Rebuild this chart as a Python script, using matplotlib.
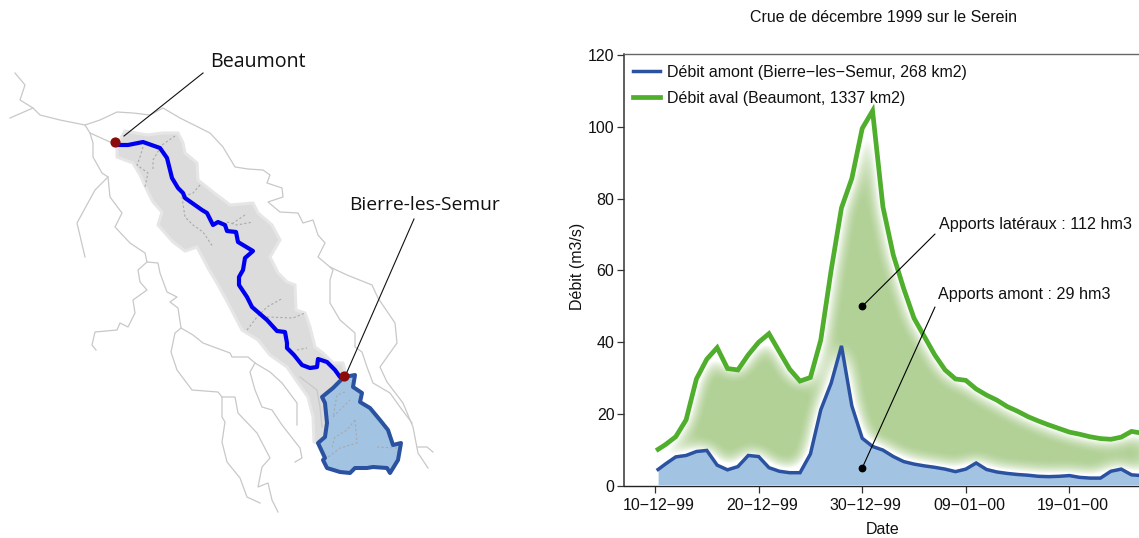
import numpy as np
import matplotlib
matplotlib.use("Agg")
import matplotlib.pyplot as plt
from matplotlib.patches import Polygon
from matplotlib.transforms import ScaledTranslation

plt.rcParams['font.family'] = ['Liberation Sans', 'DejaVu Sans']

# ---- hydrograph data (day number after 10-12-99, m3/s)
days = [0.3] + list(range(1, 48))
debit_amont = [4.6, 6.1, 8.1, 8.5, 9.6, 9.9, 5.8, 4.5, 5.4, 8.5, 8.2, 5.1, 4.1, 3.7, 3.7, 8.9,
               21.2, 28.6, 39.0, 22.3, 13.3, 11.0, 10.0, 8.2, 6.8, 6.1, 5.6, 5.2, 4.7, 4.0, 4.7, 6.4,
               4.6, 3.9, 3.5, 3.2, 3.0, 2.7, 2.6, 2.7, 2.9, 2.4, 2.2, 2.2, 4.1, 4.7, 3.1, 2.9]
debit_aval = [10.2, 11.5, 13.7, 18.4, 29.8, 35.3, 38.5, 32.7, 32.3, 36.5, 40.0, 42.4, 37.4, 32.5, 29.2, 30.2,
              40.6, 60.0, 77.4, 85.6, 99.5, 104.4, 77.7, 64.3, 55.0, 46.7, 41.6, 36.5, 32.3, 29.8, 29.4, 27.0,
              25.3, 23.9, 22.1, 20.8, 19.3, 18.1, 17.0, 16.0, 15.0, 14.4, 13.7, 13.2, 13.0, 13.6, 15.2, 14.7]
x_ticks = [0, 10, 20, 30, 40]
x_labels = ['10−12−99', '20−12−99', '30−12−99', '09−01−00', '19−01−00']
y_ticks = [0, 20, 40, 60, 80, 100, 120]
label_amont = 'Débit amont (Bierre−les−Semur, 268 km2)'
label_aval = 'Débit aval (Beaumont, 1337 km2)'

# ---- map data (map units)
bassin = [(117,145),(125,131),(147,135),(163,133),(178,133),(183,143),(185,153),(197,163),(198,180),(213,192),
          (230,205),(253,203),(258,213),(272,225),(280,240),(270,257),(278,273),(287,282),(295,285),(296,310),
          (305,313),(310,327),(315,347),(323,353),(333,363),(343,363),(346,375),(330,440),(318,443),(314,442),
          (313,417),(308,397),(298,383),(287,367),(270,355),(258,340),(242,330),(228,303),(217,283),(208,268),
          (197,247),(185,251),(173,242),(158,225),(162,212),(153,202),(147,190),(140,175),(133,163),(117,157)]
amont = [(344,377),(355,375),(353,387),(362,393),(360,402),(370,408),(380,420),(388,430),(393,445),(401,443),
         (398,460),(390,473),(387,468),(373,467),(367,468),(355,468),(350,473),(340,472),(327,468),(323,460),
         (325,458),(318,443),(325,437),(327,423),(325,403),(322,397),(333,388)]
serein = [(117,145),(128,145),(143,142),(160,148),(167,158),(172,178),(178,188),(183,193),(185,198),(202,210),
          (207,213),(213,225),(218,222),(225,225),(227,231),(236,232),(238,242),(253,251),(245,258),(243,270),
          (239,277),(239,285),(247,297),(252,307),(267,320),(277,331),(285,332),(287,343),(287,348),(294,355),
          (302,365),(310,368),(317,367),(318,359),(327,362),(335,370),(340,377)]
rivieres = [
    [(15,73),(25,85),(20,100),(33,108),(10,118)],
    [(33,108),(40,115),(60,120),(85,125),(100,120),(117,112),(133,113),(150,115),(163,108),(180,118),(210,133),
     (223,147),(235,167),(248,169),(263,170),(270,175),(267,183),(282,188),(283,197),(268,202),(280,212),(298,213),
     (303,223),(313,220),(318,235),(325,243),(318,257),(330,267),(347,275),(372,285),(378,298),(395,323),(397,343),
     (380,367),(387,382),(403,403),(413,427),(418,453),(428,468)],
    [(418,447),(427,447),(433,452)],
    [(330,267),(333,270),(330,280),(330,303),(340,320),(355,333),(355,347),(362,352),(367,367),(373,383),(390,393),
     (400,407),(412,423)],
    [(85,125),(90,133),(110,142)],
    [(90,133),(93,143),(93,157),(102,173),(108,177),(95,190),(77,223),(85,257)],
    [(108,177),(110,197),(122,213),(115,227),(130,243),(145,253),(147,262),(138,270),(140,282),(147,290),(133,300),
     (135,313),(128,327),(120,323),(117,330),(95,332),(92,345),(96,350)],
    [(147,262),(158,263),(160,273),(167,292),(177,297),(170,302),(178,308),(181,328),(175,333),(171,352),(177,370),
     (192,390),(218,392),(222,397),(235,397),(238,413),(257,433),(270,458),(262,467),(258,487),(268,483),(272,500),
     (278,512)],
    [(181,328),(193,335),(203,343),(230,353),(232,357),(248,357),(255,363),(270,372),(282,383),(297,403),(297,425)],
    [(255,363),(250,372),(255,390),(262,407),(272,410),(282,425),(300,448),(302,458),(295,462)],
    [(222,397),(222,417),(225,422),(222,442),(227,462),(240,478),(247,497),(260,503)],
    [(300,377),(317,390),(320,407),(322,427)],
]
affluents = [
    [(175,136),(162,145),(153,160),(153,170)],
    [(143,147),(140,157),(137,165),(148,173),(145,187)],
    [(200,185),(193,193),(182,197),(185,217),(193,225),(203,232),(213,247)],
    [(227,222),(237,225),(253,222)],
    [(245,215),(230,225)],
    [(247,330),(257,317),(267,307),(283,298)],
    [(267,317),(293,318),(305,313)],
    [(297,350),(307,348)],
    [(345,392),(337,395),(333,417),(350,400)],
    [(355,420),(347,430),(335,437),(332,447)],
    [(355,420),(357,443),(340,448),(327,458)],
    [(377,447),(397,448)],
]
stations = [(115, 142), (344, 376)]

W, H = 1139, 538
fig = plt.figure(figsize=(W / 100, H / 100), dpi=100, facecolor='white')

# ---- left panel: map
m = fig.add_axes([0, 0, 1, 1])
m.set_xlim(0, W)
m.set_ylim(H, 0)
m.axis('off')
m.add_patch(Polygon(bassin, closed=True, fc='#dcdcdc', ec='#e6e6e6', lw=2.2, zorder=1, joinstyle='round'))
for r in rivieres:
    xs, ys = zip(*r)
    m.plot(xs, ys, color='#c8c8c8', lw=0.9, zorder=2, solid_joinstyle='round')
m.add_patch(Polygon(amont, closed=True, fc='#a3c3e2', ec='#2b52a0', lw=2.9, zorder=3, joinstyle='round'))
for a in affluents:
    xs, ys = zip(*a)
    m.plot(xs, ys, color='#a8a8a8', lw=0.8, ls=(0, (2, 2)), zorder=4)
xs, ys = zip(*serein)
m.plot(xs, ys, color='#0000f0', lw=3.0, zorder=5, solid_joinstyle='round', solid_capstyle='round')
xs, ys = zip(*stations)
m.scatter(xs, ys, s=54, color='#8b0a0a', zorder=7, linewidths=0)
m.plot([203, 124], [73, 136], color='#111111', lw=0.8, zorder=6)
m.plot([414, 347], [219, 372], color='#111111', lw=0.8, zorder=6)
m.text(210, 62, 'Beaumont', family='Open Sans', fontsize=14.1, va='center', ha='left', color='#111111')
m.text(349, 205, 'Bierre-les-Semur', family='Open Sans', fontsize=13.9, va='center', ha='left', color='#111111')

# ---- right panel: hydrograph
ax = fig.add_axes([623.5 / W, (H - 486) / H, (W - 623.5) / W, 432 / H])
px_day = 10.36
ax.patch.set_alpha(0)

x = np.array(days)
ya = np.array(debit_amont)
yb = np.array(debit_aval)

gx = np.arange(0.3, 48, 1 / px_day)
gy = np.arange(0, 121, 1 / 3.593)
X, Y = np.meshgrid(gx, gy)
mask = ((Y < np.interp(X, x, yb)) & (Y > np.interp(X, x, ya))).astype(float)
sig = 9.0
r = np.arange(-28, 29)
kern = np.exp(-r ** 2 / (2 * sig ** 2))
kern /= kern.sum()
pad = 30
big = np.pad(mask, pad, mode='constant')
big = np.apply_along_axis(lambda v: np.convolve(v, kern, mode='same'), 0, big)
big = np.apply_along_axis(lambda v: np.convolve(v, kern, mode='same'), 1, big)
blur = big[pad:-pad, pad:-pad]
alpha = np.clip((blur - 0.6) / 0.36, 0, 1)
rgba = np.zeros(mask.shape + (4,))
rgba[..., :3] = matplotlib.colors.to_rgb('#b2d197')
rgba[..., 3] = alpha
ax.imshow(rgba, extent=(gx[0], gx[-1], gy[0], gy[-1]), origin='lower', aspect='auto',
          interpolation='bilinear', zorder=1)
ax.set_xlim(-(655 - 623.5) / px_day, (W - 655) / px_day)
ax.set_ylim(0, 432 / 3.593)

ax.fill_between(x, 0.4, ya, color='#a3c3e2', lw=0, zorder=2)
l1, = ax.plot(x, ya, color='#2b52a0', lw=2.5, zorder=4, label=label_amont, solid_joinstyle='miter')
l2, = ax.plot(x, yb, color='#4fae2c', lw=3.4, zorder=3, label=label_aval, solid_joinstyle='miter')

ax.spines['right'].set_visible(False)
ax.spines['top'].set_color('#666666')
ax.spines['top'].set_linewidth(1.0)
ax.spines['left'].set_color('#333333')
ax.spines['left'].set_linewidth(1.1)
ax.spines['bottom'].set_color('#222222')
ax.spines['bottom'].set_linewidth(1.0)
ax.set_xticks(x_ticks)
ax.set_xticklabels(x_labels)
ax.set_yticks(y_ticks)
ax.tick_params(axis='x', length=5, width=0.9, labelsize=11.5, pad=4, color='#333333', labelcolor='#111111')
ax.tick_params(axis='y', length=5, width=0.9, labelsize=11.5, pad=1.5, color='#333333', labelcolor='#111111')
shift = ScaledTranslation(3.5 / 100, 0, fig.dpi_scale_trans)
for t in ax.get_xticklabels():
    t.set_transform(t.get_transform() + shift)

ax.legend(loc='upper left', bbox_to_anchor=(0.002, 0.993), frameon=False, fontsize=11.5,
          handlelength=1.75, handletextpad=0.4, labelspacing=0.66, borderaxespad=0.2, borderpad=0.3,
          labelcolor='#111111')

ax.plot([20, 20], [50, 5], ls='none', marker='o', ms=4.6, color='black', zorder=6, clip_on=False)
ax.annotate('', xy=(20, 50), xytext=((935 - 655) / px_day, (486 - 234) / 3.593),
            arrowprops=dict(arrowstyle='-', color='black', lw=0.8, shrinkA=0, shrinkB=0), zorder=5)
ax.annotate('', xy=(20, 5), xytext=((935 - 655) / px_day, (486 - 307) / 3.593),
            arrowprops=dict(arrowstyle='-', color='black', lw=0.8, shrinkA=0, shrinkB=0), zorder=5)

fig.text(939 / W, 1 - 225 / H, 'Apports latéraux : 112 hm3', fontsize=11.65, va='center', ha='left', color='#111111')
fig.text(938 / W, 1 - 295 / H, 'Apports amont : 29 hm3', fontsize=11.65, va='center', ha='left', color='#111111')
fig.text(883 / W, 1 - 17 / H, 'Crue de décembre 1999 sur le Serein', fontsize=11.5, va='center', ha='center', color='#111111')
fig.text(883 / W, 1 - 530 / H, 'Date', fontsize=11.5, va='center', ha='center', color='#111111')
fig.text(577.5 / W, 1 - 266.5 / H, 'Débit (m3/s)', fontsize=11.5, va='center', ha='center', rotation=90, color='#111111')

fig.savefig('out.png', dpi=100)
